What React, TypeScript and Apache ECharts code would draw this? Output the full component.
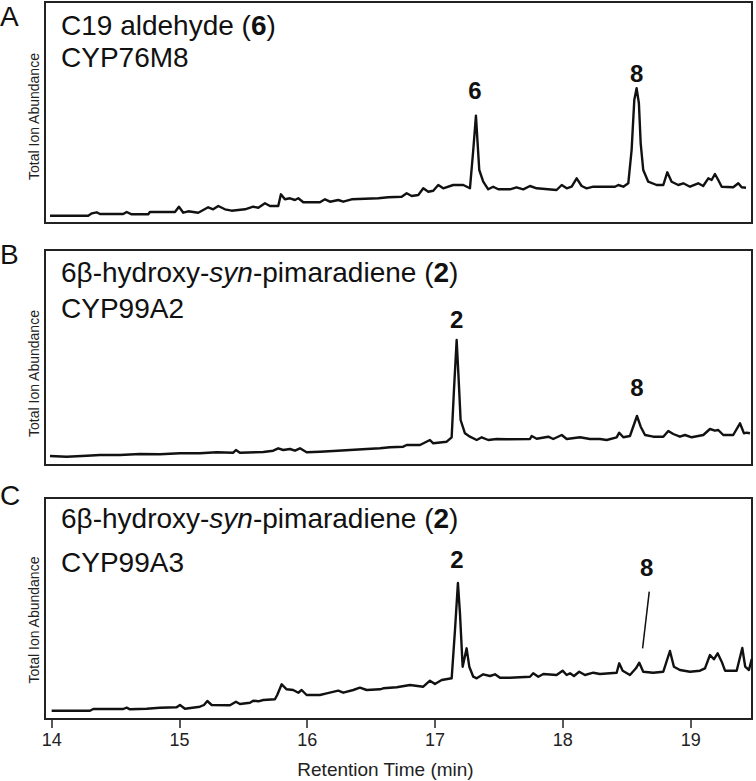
import React, { useEffect, useRef } from "react";
import * as echarts from "echarts";

const FONT = '"Liberation Sans", Arial, Helvetica, sans-serif';
const INK = "#111";
const FRAME = "#222";

// x axis (retention time, min)
const tickValues = [14, 15, 16, 17, 18, 19];
const xMin = 13.948;
const xMax = 19.48;

// Panel A: C19 aldehyde (6), CYP76M8 — [time, abundance (a.u.)]
const traceA = [
  [13.987, 7.3], [14.286, 7.3], [14.315, 9.7], [14.352, 10.7], [14.378, 9], [14.56, 9], [14.587, 11], [14.626, 8.7],
  [14.756, 8.7], [14.769, 11], [14.965, 11], [14.996, 16.3], [15.03, 10.3], [15.069, 11.7], [15.147, 10.3],
  [15.225, 15.7], [15.264, 13.7], [15.304, 17], [15.356, 13.7], [15.408, 12.3], [15.513, 13.7], [15.577, 16.3],
  [15.617, 15.3], [15.669, 19.7], [15.708, 17], [15.773, 17], [15.794, 28.7], [15.825, 23.7], [15.865, 24.7],
  [15.904, 23], [15.93, 24.7], [15.969, 20.7], [16.099, 20.7], [16.139, 23.7], [16.178, 21.3], [16.243, 23],
  [16.282, 21.3], [16.347, 23.7], [16.556, 24.7], [16.634, 25.7], [16.739, 26.3], [16.778, 29.7], [16.817, 27],
  [16.869, 28], [16.908, 34.7], [16.947, 31.3], [16.986, 32.3], [17.025, 38], [17.064, 34.7], [17.142, 38],
  [17.221, 38], [17.273, 34.7], [17.299, 73], [17.32, 107.3], [17.333, 79.7], [17.346, 53], [17.377, 41.3],
  [17.416, 33.7], [17.455, 36.3], [17.495, 33.7], [17.586, 33.7], [17.638, 35.7], [17.69, 33.7], [17.743, 37],
  [17.795, 34.7], [17.951, 33], [17.991, 38], [18.03, 34.7], [18.069, 36.3], [18.108, 44.7], [18.147, 37],
  [18.186, 34.7], [18.238, 36.3], [18.408, 36.3], [18.434, 38], [18.473, 36.3], [18.512, 39.7], [18.538, 73],
  [18.559, 123], [18.577, 134.7], [18.595, 119.7], [18.609, 79.7], [18.629, 53], [18.668, 41.3], [18.734, 38],
  [18.786, 38], [18.817, 50.7], [18.851, 41.3], [18.903, 38], [18.942, 39.7], [18.995, 36.3], [19.059, 39.7],
  [19.098, 37], [19.138, 44.7], [19.164, 43], [19.19, 49], [19.216, 43], [19.243, 36.3], [19.333, 35.7],
  [19.373, 39.7], [19.399, 35.7], [19.433, 35.3],
];

// Panel B: 6β-hydroxy-syn-pimaradiene (2), CYP99A2
const traceB = [
  [13.987, 9], [14.117, 8.3], [14.274, 9.3], [14.378, 10], [14.534, 10], [14.691, 11], [14.847, 10.7], [15.004, 11.7],
  [15.16, 11.7], [15.291, 12.7], [15.421, 12.3], [15.442, 15], [15.473, 12.3], [15.656, 13], [15.734, 14.3],
  [15.773, 16.7], [15.812, 15], [15.865, 16], [15.904, 14.3], [15.943, 16.7], [15.995, 12.7], [16.099, 13.3],
  [16.203, 14], [16.334, 15], [16.465, 16], [16.569, 16.7], [16.647, 17.7], [16.751, 18.3], [16.778, 20],
  [16.882, 20], [16.96, 25], [16.986, 21.7], [17.091, 23.3], [17.13, 27.7], [17.148, 75], [17.169, 125],
  [17.185, 85], [17.2, 45], [17.234, 31.7], [17.273, 28.3], [17.326, 25], [17.365, 27.7], [17.416, 25],
  [17.482, 26], [17.56, 25.7], [17.743, 26], [17.756, 29], [17.795, 26.3], [17.886, 28.3], [17.925, 26],
  [17.991, 30], [18.03, 26], [18.134, 27.7], [18.212, 26], [18.29, 26], [18.343, 25], [18.421, 27.7],
  [18.441, 32.3], [18.473, 27.7], [18.525, 29], [18.58, 49], [18.609, 38.3], [18.643, 30], [18.707, 28.3],
  [18.786, 28.3], [18.825, 34], [18.864, 31], [18.916, 28.3], [18.956, 30], [19.008, 27.7], [19.099, 30],
  [19.151, 36], [19.19, 34.3], [19.216, 35], [19.255, 30], [19.333, 30], [19.386, 41.7], [19.417, 31.7],
  [19.438, 32.3], [19.464, 31.7],
];

// Panel C: 6β-hydroxy-syn-pimaradiene (2), CYP99A3
const traceC = [
  [14.0, 8.3], [14.3, 8.3], [14.326, 10], [14.56, 10], [14.587, 11.3], [14.613, 9.7], [14.743, 10.3], [14.847, 11.3],
  [14.978, 11.7], [15.004, 14], [15.043, 10.3], [15.16, 12.3], [15.192, 14], [15.218, 18], [15.252, 14],
  [15.395, 13.7], [15.442, 17.3], [15.473, 15], [15.552, 16.3], [15.577, 18.3], [15.617, 17.7], [15.656, 19],
  [15.747, 19.7], [15.765, 24], [15.8, 34.7], [15.839, 29.7], [15.89, 29], [15.93, 26.3], [15.956, 29],
  [15.995, 24], [16.099, 24], [16.152, 25.7], [16.243, 28.3], [16.282, 26.3], [16.36, 29], [16.412, 31.3],
  [16.465, 29], [16.569, 29.7], [16.595, 30.7], [16.7, 31.7], [16.804, 34], [16.908, 32.3], [16.96, 38.3],
  [16.999, 35], [17.052, 39], [17.13, 40.7], [17.156, 89], [17.179, 136], [17.195, 105.7], [17.216, 52.3],
  [17.247, 70.7], [17.268, 52.3], [17.299, 42.3], [17.326, 40.7], [17.377, 44.7], [17.43, 43], [17.469, 44.7],
  [17.508, 41.3], [17.586, 41.3], [17.743, 42.3], [17.768, 45.7], [17.808, 42.3], [17.847, 45], [17.951, 44],
  [17.998, 48.3], [18.03, 44], [18.056, 45.7], [18.087, 43], [18.128, 47.3], [18.173, 44], [18.238, 46.3],
  [18.29, 45], [18.421, 46.3], [18.441, 55.7], [18.468, 48.3], [18.525, 44], [18.572, 50.7], [18.598, 56.3],
  [18.629, 47.3], [18.707, 46.3], [18.786, 47.3], [18.838, 68], [18.869, 52.3], [18.916, 49], [18.995, 47.3],
  [19.073, 48.3], [19.112, 50.7], [19.151, 64], [19.182, 59.7], [19.211, 65.7], [19.243, 57.3], [19.269, 48.3],
  [19.36, 48.3], [19.404, 71], [19.427, 52.3], [19.456, 49], [19.478, 60],
];

// Peak annotations: [time, abundance, label]
const peakLabelsA = [[17.312, 133, "6"], [18.577, 150, "8"]];
const peakLabelsB = [[17.169, 146, "2"], [18.58, 78, "8"]];
const peakLabelsC = [[17.171, 160, "2"], [18.656, 152, "8"]];
const pointerC = [[18.676, 127.3], [18.624, 70.7]];

const panelLetters = ["A", "B", "C"];
const panelTitles = [
  "{n|C19 aldehyde (}{b|6}{n|)}\n{n|CYP76M8}",
  "{n|6β-hydroxy-}{i|syn}{n|-pimaradiene (}{b|2}{n|)}\n{n|CYP99A2}",
  "{n|6β-hydroxy-}{i|syn}{n|-pimaradiene (}{b|2}{n|)}\n{n|CYP99A3}",
];
const yAxisName = "Total Ion Abundance";
const xAxisName = "Retention Time (min)";

export default function App() {
  const ref = useRef<HTMLDivElement>(null);

  useEffect(() => {
    if (!ref.current) return;
    const chart = echarts.init(ref.current, null, { renderer: "svg" });

    const panels = [
      { top: 2, height: 221, letterTop: 2, titleTop: 9, lh: 32, namePad: 8, trace: traceA, peaks: peakLabelsA },
      { top: 250, height: 215, letterTop: 240, titleTop: 255, lh: 35.5, namePad: 32, trace: traceB, peaks: peakLabelsB },
      { top: 498, height: 221, letterTop: 481, titleTop: 496, lh: 44.5, namePad: 23, trace: traceC, peaks: peakLabelsC },
    ];

    const titles: any[] = [];
    panels.forEach((p, i) => {
      titles.push({
        text: panelLetters[i],
        left: 0,
        top: p.letterTop,
        padding: 0,
        textStyle: { fontFamily: FONT, fontSize: 28, fontWeight: "normal", color: INK },
      });
      const base = { fontFamily: FONT, fontSize: 28, color: INK, lineHeight: p.lh };
      titles.push({
        text: panelTitles[i],
        left: 61,
        top: p.titleTop,
        padding: 0,
        textStyle: {
          fontFamily: FONT,
          fontSize: 28,
          fontWeight: "normal",
          color: INK,
          lineHeight: p.lh,
          rich: {
            n: { ...base },
            b: { ...base, fontWeight: "bold" },
            i: { ...base, fontStyle: "italic" },
          },
        },
      });
    });

    const series: any[] = [];
    panels.forEach((p, i) => {
      const line: any = {
        type: "line",
        xAxisIndex: i,
        yAxisIndex: i,
        data: p.trace,
        symbol: "none",
        showSymbol: false,
        silent: true,
        lineStyle: { color: INK, width: 2.4, join: "round" },
        z: 3,
      };
      if (i === 2) {
        line.markLine = {
          silent: true,
          symbol: ["none", "none"],
          label: { show: false },
          lineStyle: { color: INK, width: 1.5, type: "solid" },
          data: [[{ coord: pointerC[0] }, { coord: pointerC[1] }]],
        };
      }
      series.push(line);
      series.push({
        type: "scatter",
        xAxisIndex: i,
        yAxisIndex: i,
        silent: true,
        symbolSize: 1,
        itemStyle: { color: "rgba(0,0,0,0)", opacity: 1 },
        data: p.peaks.map(([t, v, txt]) => ({ value: [t, v], name: txt })),
        label: {
          show: true,
          position: "inside",
          formatter: "{b}",
          fontFamily: FONT,
          fontSize: 24,
          fontWeight: "bold",
          color: INK,
          opacity: 1,
        },
        z: 4,
      });
    });

    chart.setOption({
      animation: false,
      backgroundColor: "#fff",
      title: titles,
      grid: panels.map((p) => ({
        left: 45,
        width: 707,
        top: p.top,
        height: p.height,
        show: true,
        borderColor: FRAME,
        borderWidth: 2,
        backgroundColor: "transparent",
      })),
      xAxis: panels.map((p, i) => ({
        gridIndex: i,
        type: "value",
        min: xMin,
        max: xMax,
        splitLine: { show: false },
        axisLine: { show: i === 2, lineStyle: { color: FRAME, width: 2 } },
        axisTick: {
          show: i === 2,
          customValues: tickValues,
          length: 9,
          lineStyle: { color: FRAME, width: 1.5 },
        },
        axisLabel: {
          show: i === 2,
          customValues: tickValues,
          fontFamily: FONT,
          fontSize: 18,
          color: "#222",
          margin: 12,
        },
        name: i === 2 ? xAxisName : "",
        nameLocation: "middle",
        nameGap: 41,
        nameTextStyle: { fontFamily: FONT, fontSize: 19, color: "#222", padding: [0, 26, 0, 0] },
      })),
      yAxis: panels.map((p, i) => ({
        gridIndex: i,
        type: "value",
        min: 0,
        max: p.height,
        splitLine: { show: false },
        axisLine: { show: false },
        axisTick: { show: false },
        axisLabel: { show: false },
        name: yAxisName,
        nameLocation: "middle",
        nameGap: 4,
        nameTextStyle: { fontFamily: FONT, fontSize: 14, color: "#222", padding: [0, p.namePad, 0, 0] },
      })),
      series,
    });

    return () => chart.dispose();
  }, []);

  return (
    <div
      ref={ref}
      style={{ position: "fixed", left: 0, top: 0, width: 756, height: 781, background: "#fff" }}
    />
  );
}
